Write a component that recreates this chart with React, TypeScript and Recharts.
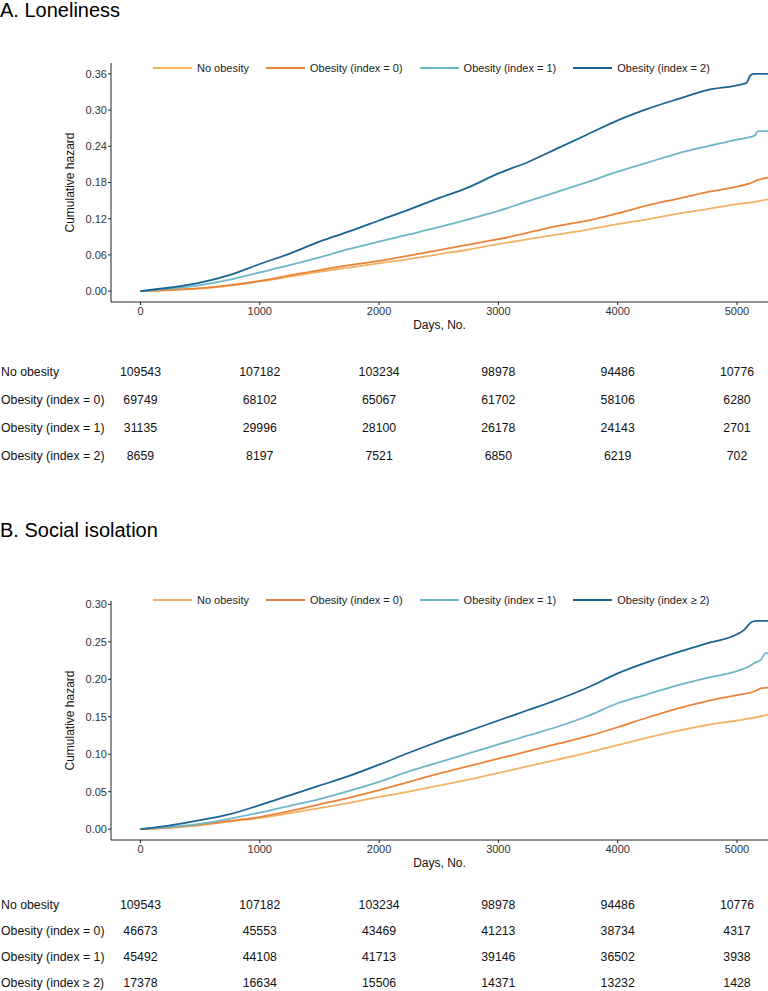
import React from 'react';
import { LineChart, Line, XAxis, YAxis, Legend, Label, ScatterChart, Scatter } from 'recharts';

const FONT = '"Liberation Sans", Arial, Helvetica, sans-serif';

// group colours: no obesity, index 0, index 1, index 2+
const GROUP_COLORS = ['#f3b264', '#ea843b', '#6cb6c6', '#1b6492'];

const LONELY_GROUPS = ['No obesity', 'Obesity (index = 0)', 'Obesity (index = 1)', 'Obesity (index = 2)'];
const ISOLATION_GROUPS = ['No obesity', 'Obesity (index = 0)', 'Obesity (index = 1)', 'Obesity (index \u2265 2)'];

const DAY_TICKS = [0, 1000, 2000, 3000, 4000, 5000];
const DAY_DOMAIN = [-247, 5260];
const GRID = [0, 250, 500, 750, 1000, 1250, 1500, 1750, 2000, 2250, 2500, 2750, 3000, 3250, 3500, 3750, 4000, 4250, 4500, 4750, 5000];

// A. Loneliness - cumulative hazard
const LONELY_TICKS = [0, 0.06, 0.12, 0.18, 0.24, 0.3, 0.36];
const LONELY_NONE_DAYS = [...GRID, 5150, 5260];
const LONELY_NONE = [0, 0.0015, 0.004, 0.009, 0.016, 0.024, 0.032, 0.039, 0.046, 0.053, 0.061, 0.069, 0.078, 0.086, 0.094, 0.102, 0.111, 0.119, 0.128, 0.136, 0.144, 0.148, 0.152];
const LONELY_IDX0_DAYS = [...GRID, 5100, 5190, 5260];
const LONELY_IDX0 = [0, 0.002, 0.005, 0.01, 0.017, 0.026, 0.035, 0.043, 0.05, 0.059, 0.068, 0.077, 0.086, 0.097, 0.108, 0.117, 0.129, 0.142, 0.153, 0.164, 0.173, 0.178, 0.185, 0.188];
const LONELY_IDX1_DAYS = [...GRID, 5150, 5175, 5260];
const LONELY_IDX1 = [0, 0.004, 0.01, 0.019, 0.031, 0.043, 0.056, 0.07, 0.082, 0.094, 0.106, 0.119, 0.133, 0.149, 0.165, 0.181, 0.198, 0.213, 0.228, 0.24, 0.251, 0.258, 0.265, 0.265];
const LONELY_IDX2_DAYS = [...GRID, 5080, 5110, 5140, 5260];
const LONELY_IDX2 = [0, 0.006, 0.014, 0.027, 0.045, 0.062, 0.082, 0.099, 0.117, 0.135, 0.154, 0.172, 0.195, 0.214, 0.237, 0.26, 0.283, 0.302, 0.318, 0.333, 0.341, 0.345, 0.357, 0.36, 0.36];

// B. Social isolation - cumulative hazard
const ISOLATION_TICKS = [0, 0.05, 0.1, 0.15, 0.2, 0.25, 0.3];
const ISOLATION_NONE_DAYS = [...GRID, 5150, 5260];
const ISOLATION_NONE = [0, 0.002, 0.005, 0.01, 0.015, 0.021, 0.028, 0.035, 0.043, 0.05, 0.058, 0.066, 0.075, 0.084, 0.093, 0.102, 0.112, 0.122, 0.131, 0.139, 0.145, 0.149, 0.153];
const ISOLATION_IDX0_DAYS = [...GRID, 5150, 5200, 5260];
const ISOLATION_IDX0 = [0, 0.002, 0.006, 0.011, 0.016, 0.024, 0.033, 0.042, 0.052, 0.063, 0.074, 0.084, 0.094, 0.104, 0.114, 0.124, 0.136, 0.149, 0.161, 0.171, 0.179, 0.184, 0.188, 0.189];
const ISOLATION_IDX1_DAYS = [...GRID, 5100, 5150, 5200, 5240, 5260];
const ISOLATION_IDX1 = [0, 0.003, 0.007, 0.014, 0.022, 0.031, 0.04, 0.051, 0.063, 0.077, 0.089, 0.101, 0.113, 0.125, 0.137, 0.151, 0.168, 0.18, 0.192, 0.202, 0.211, 0.217, 0.222, 0.226, 0.235, 0.235];
const ISOLATION_IDX2_DAYS = [...GRID, 5060, 5120, 5160, 5260];
const ISOLATION_IDX2 = [0, 0.005, 0.012, 0.02, 0.032, 0.045, 0.058, 0.071, 0.086, 0.102, 0.117, 0.131, 0.145, 0.159, 0.173, 0.189, 0.208, 0.223, 0.236, 0.248, 0.26, 0.266, 0.276, 0.278, 0.278];

// numbers at risk at each day tick
const LONELY_AT_RISK = [
  [109543, 107182, 103234, 98978, 94486, 10776],
  [69749, 68102, 65067, 61702, 58106, 6280],
  [31135, 29996, 28100, 26178, 24143, 2701],
  [8659, 8197, 7521, 6850, 6219, 702],
];
const ISOLATION_AT_RISK = [
  [109543, 107182, 103234, 98978, 94486, 10776],
  [46673, 45553, 43469, 41213, 38734, 4317],
  [45492, 44108, 41713, 39146, 36502, 3938],
  [17378, 16634, 15506, 14371, 13232, 1428],
];

type Series = { name: string; color: string; points: { day: number; hazard: number }[] };

const toPoints = (days: number[], hazard: number[]) => days.map((day, i) => ({ day, hazard: hazard[i] }));

const buildSeries = (names: string[], days: number[][], values: number[][]): Series[] =>
  names.map((name, i) => ({ name, color: GROUP_COLORS[i], points: toPoints(days[i], values[i]) }));

const lonelySeries = buildSeries(
  LONELY_GROUPS,
  [LONELY_NONE_DAYS, LONELY_IDX0_DAYS, LONELY_IDX1_DAYS, LONELY_IDX2_DAYS],
  [LONELY_NONE, LONELY_IDX0, LONELY_IDX1, LONELY_IDX2]
);
const isolationSeries = buildSeries(
  ISOLATION_GROUPS,
  [ISOLATION_NONE_DAYS, ISOLATION_IDX0_DAYS, ISOLATION_IDX1_DAYS, ISOLATION_IDX2_DAYS],
  [ISOLATION_NONE, ISOLATION_IDX0, ISOLATION_IDX1, ISOLATION_IDX2]
);

const HazardLegend = ({ items }: { items: Series[] }) => (
  <div style={{ display: 'flex', alignItems: 'center', fontSize: 11, color: '#222', whiteSpace: 'nowrap', height: 14 }}>
    {items.map((s) => (
      <div key={s.name} style={{ display: 'flex', alignItems: 'center', marginRight: 17 }}>
        <span style={{ width: 39, height: 2.6, background: s.color, marginRight: 5 }} />
        <span>{s.name}</span>
      </div>
    ))}
  </div>
);

const YTitle = ({ viewBox }: any) => {
  const cy = viewBox.y + viewBox.height / 2;
  return (
    <text transform={`translate(74, ${cy}) rotate(-90)`} textAnchor="middle" fontSize={12} fill="#111">
      Cumulative hazard
    </text>
  );
};

const HazardChart = ({ series, ticks, domain, marginTop, legendTop }: any) => (
  <LineChart width={768} height={marginTop + 272} margin={{ top: marginTop, right: 0, bottom: 0, left: 0 }}>
    <XAxis
      type="number"
      dataKey="day"
      domain={DAY_DOMAIN}
      ticks={DAY_TICKS}
      allowDataOverflow
      height={33}
      tickSize={3}
      tickMargin={2}
      stroke="#222"
      tick={{ fill: '#333', fontSize: 11 }}
    >
      <Label value="Days, No." position="insideBottom" offset={6} fill="#111" fontSize={12} />
    </XAxis>
    <YAxis
      type="number"
      domain={domain}
      ticks={ticks}
      allowDataOverflow
      width={111}
      tickSize={3}
      tickMargin={1}
      stroke="#222"
      tick={{ fill: '#333', fontSize: 11 }}
      tickFormatter={(v: number) => v.toFixed(2)}
      label={<YTitle />}
    />
    <Legend
      layout="horizontal"
      verticalAlign="middle"
      align="center"
      wrapperStyle={{ top: legendTop, left: 153, width: 615 }}
      content={() => <HazardLegend items={series} />}
    />
    {series.map((s: Series) => (
      <Line
        key={s.name}
        data={s.points}
        dataKey="hazard"
        name={s.name}
        type="monotone"
        stroke={s.color}
        strokeWidth={1.8}
        dot={false}
        isAnimationActive={false}
      />
    ))}
  </LineChart>
);

const RowLabel = ({ y, payload, groups }: any) => (
  <text x={1} y={y} dy="0.35em" textAnchor="start" fontSize={12.3} fill="#111">
    {groups[payload.value - 1]}
  </text>
);

const CountCell = ({ cx, cy, payload }: any) => (
  <text x={cx} y={cy} dy="0.35em" textAnchor="middle" fontSize={12.3} fill="#111">
    {payload.n}
  </text>
);

const RiskTable = ({ groups, counts, height }: any) => {
  const cells = counts.flatMap((row: number[], r: number) =>
    row.map((n, c) => ({ day: DAY_TICKS[c], row: r + 1, n }))
  );
  return (
    <ScatterChart width={768} height={height} margin={{ top: 0, right: 0, bottom: 0, left: 0 }}>
      <XAxis type="number" dataKey="day" domain={DAY_DOMAIN} allowDataOverflow hide />
      <YAxis
        type="number"
        dataKey="row"
        domain={[0.5, 4.5]}
        ticks={[1, 2, 3, 4]}
        reversed
        width={111}
        axisLine={false}
        tickLine={false}
        tick={<RowLabel groups={groups} />}
      />
      <Scatter data={cells} shape={CountCell} isAnimationActive={false} />
    </ScatterChart>
  );
};

const Title = ({ text, top }: { text: string; top: number }) => (
  <div style={{ position: 'absolute', left: 0, top, fontSize: 20, lineHeight: '20px', color: '#000' }}>{text}</div>
);

export default function App() {
  return (
    <div style={{ position: 'absolute', left: 0, top: 0, width: 768, height: 991, background: '#fff', fontFamily: FONT, overflow: 'hidden' }}>
      <Title text="A. Loneliness" top={0} />
      <div style={{ position: 'absolute', left: 0, top: 0 }}>
        <HazardChart series={lonelySeries} ticks={LONELY_TICKS} domain={[-0.018, 0.378]} marginTop={63} legendTop={61} />
      </div>
      <div style={{ position: 'absolute', left: 0, top: 358 }}>
        <RiskTable groups={LONELY_GROUPS} counts={LONELY_AT_RISK} height={112} />
      </div>

      <Title text="B. Social isolation" top={520} />
      <div style={{ position: 'absolute', left: 0, top: 534 }}>
        <HazardChart series={isolationSeries} ticks={ISOLATION_TICKS} domain={[-0.0145, 0.3045]} marginTop={67} legendTop={59} />
      </div>
      <div style={{ position: 'absolute', left: 0, top: 892 }}>
        <RiskTable groups={ISOLATION_GROUPS} counts={ISOLATION_AT_RISK} height={104} />
      </div>
    </div>
  );
}
